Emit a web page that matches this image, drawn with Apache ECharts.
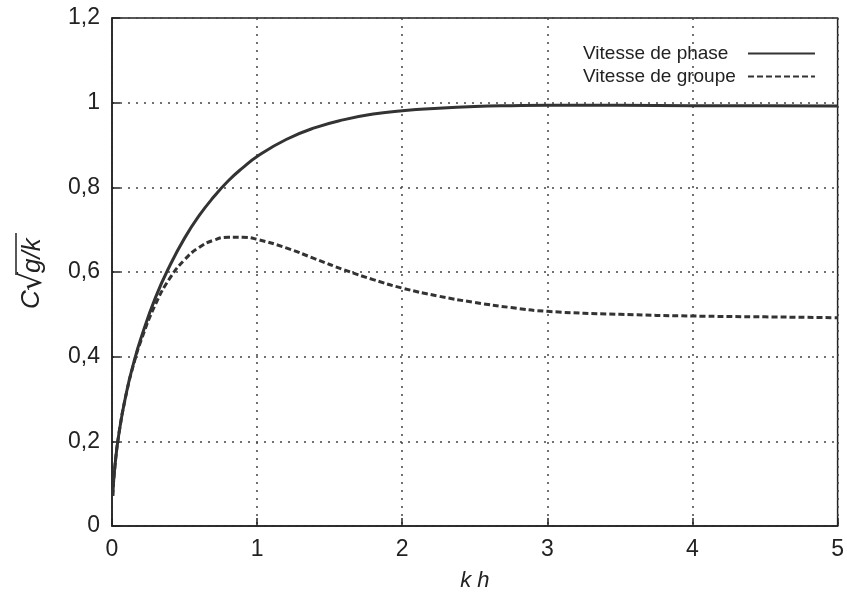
<!DOCTYPE html>
<html>
<head>
<meta charset="utf-8">
<script src="https://cdn.jsdelivr.net/npm/echarts@6/dist/echarts.min.js"></script>
<style>
html,body{margin:0;padding:0;background:#fff;}
#chart{width:847px;height:599px;}
</style>
</head>
<body>
<div id="chart"></div>
<script>
// Dimensionless depth kh
const kh = [0.005, 0.02, 0.05, 0.1, 0.15, 0.2, 0.3, 0.4, 0.5, 0.6, 0.7, 0.8, 0.9, 1.0,
            1.2, 1.4, 1.6, 1.8, 2.0, 2.25, 2.5, 2.75, 3.0, 3.5, 4.0, 4.5, 5.0];
// Phase speed, in units of sqrt(g/k)
const phaseSpeed = [0.071, 0.141, 0.224, 0.316, 0.386, 0.444, 0.540, 0.616, 0.680, 0.733, 0.777, 0.815, 0.846, 0.873,
                    0.913, 0.941, 0.960, 0.973, 0.981, 0.987, 0.991, 0.993, 0.994, 0.994, 0.993, 0.993, 0.992];
// Group speed, in units of sqrt(g/k)
const groupSpeed = [0.071, 0.141, 0.223, 0.315, 0.383, 0.438, 0.524, 0.586, 0.629, 0.658, 0.675, 0.682, 0.682, 0.677,
                    0.657, 0.631, 0.605, 0.582, 0.562, 0.543, 0.528, 0.516, 0.507, 0.500, 0.496, 0.494, 0.492];
const xTicks = [0, 1, 2, 3, 4, 5];
const yTicks = [0, 0.2, 0.4, 0.6, 0.8, 1, 1.2];
const seriesNames = ['Vitesse de phase', 'Vitesse de groupe'];

const font = '"Liberation Sans", Arial, sans-serif';
const ink = '#222';
const curveColor = '#333';

const pairs = (xs, ys) => xs.map((x, i) => [x, ys[i]]);
const fmt = v => String(+v.toFixed(1)).replace('.', ',');

const chart = echarts.init(document.getElementById('chart'), null, {renderer: 'canvas'});

const gridSplit = {
  show: true,
  lineStyle: {color: '#444', width: 1.5, type: [2, 6]}
};

chart.setOption({
  animation: false,
  backgroundColor: '#fff',
  grid: {
    left: 112, right: 5, top: 18, bottom: 73,
    show: true, borderColor: '#222', borderWidth: 1.5, backgroundColor: 'transparent'
  },
  legend: {
    orient: 'vertical',
    right: 26, top: 39,
    align: 'right',
    itemWidth: 67, itemHeight: 14, itemGap: 4,
    itemStyle: {opacity: 0},
    formatter: name => '{t|' + name + '}',
    textStyle: {
      fontFamily: font, fontSize: 19, color: ink,
      rich: {t: {width: 160, align: 'left', fontFamily: font, fontSize: 19, lineHeight: 22, color: ink}}
    },
    data: seriesNames
  },
  xAxis: {
    type: 'value',
    min: xTicks[0], max: xTicks[xTicks.length - 1], interval: 1,
    axisLine: {show: true, onZero: false, lineStyle: {color: '#222', width: 1.5}},
    axisTick: {show: true, inside: true, length: 8, lineStyle: {color: '#222', width: 1.5}},
    axisLabel: {fontFamily: font, fontSize: 23, color: ink, margin: 12, formatter: fmt},
    splitLine: gridSplit,
    name: 'k h',
    nameLocation: 'middle', nameGap: 44,
    nameTextStyle: {fontFamily: font, fontSize: 22, fontStyle: 'italic', color: ink}
  },
  yAxis: {
    type: 'value',
    min: yTicks[0], max: yTicks[yTicks.length - 1], interval: 0.2,
    axisLine: {show: true, onZero: false, lineStyle: {color: '#222', width: 1.5}},
    axisTick: {show: true, inside: true, length: 8, lineStyle: {color: '#222', width: 1.5}},
    axisLabel: {fontFamily: font, fontSize: 23, color: ink, margin: 12, formatter: fmt},
    splitLine: gridSplit
  },
  graphic: [{
    // rotated axis title: C times the square root of g/k
    type: 'group',
    x: 32, y: 264,
    rotation: Math.PI / 2,
    children: [
      {type: 'text', x: -45, y: 0, style: {text: 'C', font: 'italic 26px ' + font, fill: ink, textVerticalAlign: 'middle'}},
      {type: 'text', x: -27, y: 1, style: {text: '√', font: '30px "DejaVu Sans", sans-serif', fill: ink, textVerticalAlign: 'middle'}},
      {type: 'text', x: -9, y: 1, style: {text: 'g/k', font: 'italic 26px ' + font, fill: ink, textVerticalAlign: 'middle'}},
      {type: 'line', shape: {x1: -11, y1: -16, x2: 31, y2: -16}, style: {stroke: ink, lineWidth: 1.5}}
    ]
  }],
  series: [
    {
      name: seriesNames[0], type: 'line', smooth: true, symbol: 'none',
      data: pairs(kh, phaseSpeed),
      lineStyle: {color: curveColor, width: 3},
      itemStyle: {color: curveColor}
    },
    {
      name: seriesNames[1], type: 'line', smooth: true, symbol: 'none',
      data: pairs(kh, groupSpeed),
      lineStyle: {color: curveColor, width: 3, type: [6, 3]},
      itemStyle: {color: curveColor}
    }
  ]
});
</script>
</body>
</html>
